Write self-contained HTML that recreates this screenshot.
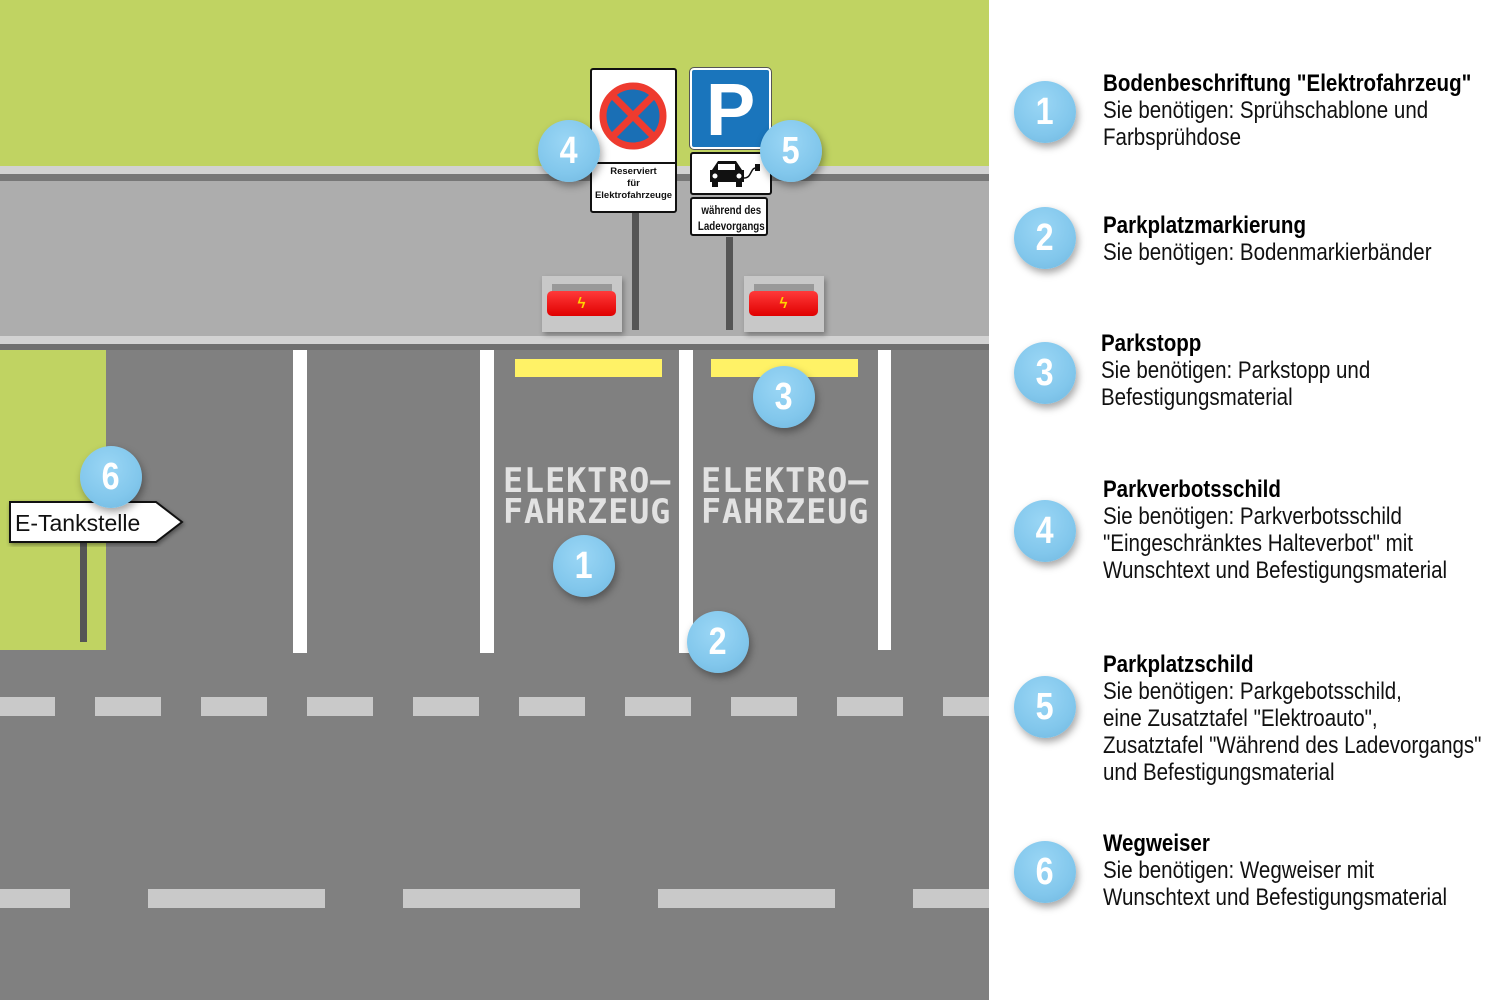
<!DOCTYPE html>
<html><head><meta charset="utf-8">
<style>
body{margin:0;width:1500px;height:1000px;position:relative;overflow:hidden;background:#fff;font-family:"Liberation Sans",sans-serif}
.a{position:absolute}
.b{position:absolute;width:62px;height:62px;border-radius:50%;background:radial-gradient(circle at 45% 35%,#9ad6f5,#82c7ec 60%,#6fb6de);box-shadow:2px 4px 8px rgba(0,0,0,.35);color:#fff;font-weight:bold;font-size:38px;line-height:62px;text-align:center;margin:-31px 0 0 -31px}
.b span{display:inline-block;transform:scaleX(.85)}
.t{position:absolute;left:1103px;font-size:24px;line-height:27px;color:#111;transform:scaleX(.855);transform-origin:left top;white-space:nowrap}
.t b{font-weight:bold;color:#000}
.w{position:absolute;background:#fff}
.d{position:absolute;background:#c9c9c9;height:19px}
.st{position:absolute;color:#e2e2e2;font-weight:bold;font-size:34px;line-height:31px;white-space:nowrap;transform:scaleX(.98);transform-origin:left top;letter-spacing:1px;font-family:"DejaVu Sans Mono","Liberation Mono",monospace}
</style></head><body>
<div class="a" style="left:0;top:0;width:989px;height:166px;background:#c0d362"></div>
<div class="a" style="left:0;top:166px;width:989px;height:8px;background:#d2d2d2"></div>
<div class="a" style="left:0;top:174px;width:989px;height:7px;background:#777"></div>
<div class="a" style="left:0;top:181px;width:989px;height:155px;background:#adadad"></div>
<div class="a" style="left:0;top:336px;width:989px;height:8px;background:#d2d2d2"></div>
<div class="a" style="left:0;top:344px;width:989px;height:6px;background:#6f6f6f"></div>
<div class="a" style="left:0;top:350px;width:989px;height:650px;background:#808080"></div>
<div class="a" style="left:0;top:350px;width:106px;height:300px;background:#c0d362"></div>

<div class="w" style="left:293px;top:350px;width:14px;height:303px"></div>
<div class="w" style="left:480px;top:350px;width:14px;height:303px"></div>
<div class="w" style="left:679px;top:350px;width:14px;height:303px"></div>
<div class="w" style="left:878px;top:350px;width:13px;height:300px"></div>
<div class="a" style="left:515px;top:359px;width:147px;height:18px;background:#fff266"></div>
<div class="a" style="left:711px;top:359px;width:147px;height:18px;background:#fff266"></div>

<div class="d" style="left:0;top:697px;width:55px"></div>
<div class="d" style="left:95px;top:697px;width:66px"></div>
<div class="d" style="left:201px;top:697px;width:66px"></div>
<div class="d" style="left:307px;top:697px;width:66px"></div>
<div class="d" style="left:413px;top:697px;width:66px"></div>
<div class="d" style="left:519px;top:697px;width:66px"></div>
<div class="d" style="left:625px;top:697px;width:66px"></div>
<div class="d" style="left:731px;top:697px;width:66px"></div>
<div class="d" style="left:837px;top:697px;width:66px"></div>
<div class="d" style="left:943px;top:697px;width:46px"></div>
<div class="d" style="left:0;top:889px;width:70px"></div>
<div class="d" style="left:148px;top:889px;width:177px"></div>
<div class="d" style="left:403px;top:889px;width:177px"></div>
<div class="d" style="left:658px;top:889px;width:177px"></div>
<div class="d" style="left:913px;top:889px;width:76px"></div>

<div class="st" style="left:503px;top:466px">ELEKTRO–<br>FAHRZEUG</div>
<div class="st" style="left:701px;top:466px">ELEKTRO–<br>FAHRZEUG</div>

<div class="a" style="left:632px;top:210px;width:7px;height:120px;background:#555"></div>
<div class="a" style="left:726px;top:237px;width:7px;height:93px;background:#555"></div>
<div class="a" style="left:80px;top:540px;width:7px;height:102px;background:#555"></div>

<div class="a" style="left:542px;top:276px;width:80px;height:56px;background:#c8c8c8;box-shadow:2px 3px 5px rgba(0,0,0,.3)"></div>
<div class="a" style="left:552px;top:284px;width:60px;height:7px;background:#999"></div>
<div class="a" style="left:547px;top:291px;width:69px;height:25px;background:linear-gradient(#ff3a3a,#e00000);border-radius:5px;color:#ffd400;font-size:15px;text-align:center;line-height:25px;font-weight:bold">ϟ</div>
<div class="a" style="left:744px;top:276px;width:80px;height:56px;background:#c8c8c8;box-shadow:2px 3px 5px rgba(0,0,0,.3)"></div>
<div class="a" style="left:754px;top:284px;width:60px;height:7px;background:#999"></div>
<div class="a" style="left:749px;top:291px;width:69px;height:25px;background:linear-gradient(#ff3a3a,#e00000);border-radius:5px;color:#ffd400;font-size:15px;text-align:center;line-height:25px;font-weight:bold">ϟ</div>

<div class="a" style="left:590px;top:68px;width:83px;height:141px;background:#fff;border:2px solid #111;border-radius:3px"></div>
<div class="a" style="left:591px;top:162px;width:85px;height:2px;background:#111"></div>
<svg class="a" style="left:598px;top:80px" width="70" height="72"><circle cx="35" cy="36" r="30" fill="#1a6fb5" stroke="#ee3b2f" stroke-width="7"/><line x1="14" y1="15" x2="56" y2="57" stroke="#ee3b2f" stroke-width="7"/><line x1="56" y1="15" x2="14" y2="57" stroke="#ee3b2f" stroke-width="7"/></svg>
<div class="a" style="left:591px;top:166px;width:85px;text-align:center;font-size:9.5px;line-height:12px;font-weight:bold;color:#111">Reserviert<br>für<br>Elektrofahrzeuge</div>

<div class="a" style="left:690px;top:68px;width:77px;height:77px;background:#1a75bc;border:2px solid #fff;outline:1px solid #555;border-radius:4px;color:#fff;font-weight:bold;font-size:74px;line-height:80px;text-align:center">P</div>
<div class="a" style="left:690px;top:152px;width:78px;height:39px;background:#fff;border:2px solid #111;border-radius:3px"></div>
<svg class="a" style="left:706px;top:156px" width="60" height="34"><path d="M6 14 L12 5 H30 L36 14 H38 V26 H4 V14Z" fill="#111"/><rect x="12" y="8" width="17" height="6" fill="#fff"/><circle cx="9" cy="20" r="2.5" fill="#fff"/><circle cx="33" cy="20" r="2.5" fill="#fff"/><rect x="6" y="26" width="6" height="5" fill="#111"/><rect x="30" y="26" width="6" height="5" fill="#111"/><path d="M38 22 C46 22 44 12 50 12" stroke="#111" stroke-width="1.5" fill="none"/><rect x="49" y="8" width="5" height="7" fill="#111"/></svg>
<div class="a" style="left:690px;top:197px;width:78px;height:39px;background:#fff;border:2px solid #111;border-radius:3px;text-align:center;font-size:11.5px;line-height:16px;font-weight:bold;color:#111;padding-top:4px;box-sizing:border-box"><span style="display:inline-block;transform:scaleX(.85)">während des<br>Ladevorgangs</span></div>

<svg class="a" style="left:6px;top:499px" width="182" height="48"><path d="M4 3 H150 L176 23 L150 43 H4 Z" fill="#fff" stroke="#111" stroke-width="2" style="filter:drop-shadow(1px 2px 2px rgba(0,0,0,.4))"/><text x="9" y="32" font-family="Liberation Sans" font-size="23" fill="#111">E-Tankstelle</text></svg>

<div class="b" style="left:584px;top:566px"><span>1</span></div>
<div class="b" style="left:718px;top:642px"><span>2</span></div>
<div class="b" style="left:784px;top:397px"><span>3</span></div>
<div class="b" style="left:569px;top:151px"><span>4</span></div>
<div class="b" style="left:791px;top:151px"><span>5</span></div>
<div class="b" style="left:111px;top:477px"><span>6</span></div>

<div class="b" style="left:1045px;top:112px"><span>1</span></div>
<div class="b" style="left:1045px;top:238px"><span>2</span></div>
<div class="b" style="left:1045px;top:373px"><span>3</span></div>
<div class="b" style="left:1045px;top:531px"><span>4</span></div>
<div class="b" style="left:1045px;top:707px"><span>5</span></div>
<div class="b" style="left:1045px;top:872px"><span>6</span></div>

<div class="t" style="top:70px"><b>Bodenbeschriftung "Elektrofahrzeug"</b><br>Sie benötigen: Sprühschablone und<br>Farbsprühdose</div>
<div class="t" style="top:212px"><b>Parkplatzmarkierung</b><br>Sie benötigen: Bodenmarkierbänder</div>
<div class="t" style="top:330px;left:1101px"><b>Parkstopp</b><br>Sie benötigen: Parkstopp und<br>Befestigungsmaterial</div>
<div class="t" style="top:476px"><b>Parkverbotsschild</b><br>Sie benötigen: Parkverbotsschild<br>"Eingeschränktes Halteverbot" mit<br>Wunschtext und Befestigungsmaterial</div>
<div class="t" style="top:651px"><b>Parkplatzschild</b><br>Sie benötigen: Parkgebotsschild,<br>eine Zusatztafel "Elektroauto",<br>Zusatztafel "Während des Ladevorgangs"<br>und Befestigungsmaterial</div>
<div class="t" style="top:830px"><b>Wegweiser</b><br>Sie benötigen: Wegweiser mit<br>Wunschtext und Befestigungsmaterial</div>
</body></html>
